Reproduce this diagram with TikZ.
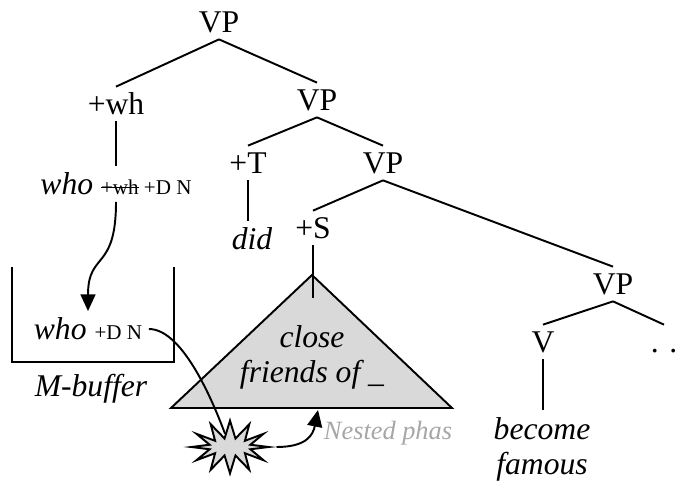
\documentclass[tikz,border=0pt]{standalone}
\usepackage{fontspec}
\setmainfont{Liberation Serif}
\usepackage{xcolor}
\usetikzlibrary{shapes.symbols,arrows.meta}
\definecolor{shadegray}{gray}{0.85}
\definecolor{notegray}{gray}{0.65}
\newcommand{\feat}[1]{{\fontsize{12}{14}\selectfont\upshape #1}}
\newcommand{\crossout}[1]{\setbox0\hbox{#1}\rlap{\rule[0.3em]{\wd0}{0.6pt}}\box0}

\begin{document}
\begin{tikzpicture}[x=0.02cm,y=-0.02cm,line width=1.1pt,
  cat/.style={font=\fontsize{18}{20}\selectfont,text height=12pt,text depth=0pt},
  word/.style={font=\fontsize{18}{20}\selectfont\itshape,align=center},
  tip/.style={-{Triangle[length=9.5pt,width=8.5pt]}}]
  \useasboundingbox (0,0) rectangle (675,483);
  % tree
  \node[cat] (vp1) at (219,22) {VP};
  \node[cat] (wh) at (116,104) {+wh};
  \node[cat] (vp2) at (317,100) {VP};
  \node[cat] (t) at (248,163) {+T};
  \node[cat] (vp3) at (383,163) {VP};
  \node[cat] (s) at (313,228) {+S};
  \node[cat] (vp4) at (613,284) {VP};
  \node[cat] (v) at (543,342) {V};
  \node[cat] (dots) at (664,342) {. .};
  \node[word] (whoa) at (116,184) {who \feat{\crossout{+wh}~+D~N}};
  \node[word] (did) at (252,239) {did};
  \node[word] (bec) at (542,449) {become\\famous};
  \draw (vp1.south) -- (wh.north);
  \draw (vp1.south) -- (vp2.north);
  \draw (vp2.south) -- (t.north);
  \draw (vp2.south) -- (vp3.north);
  \draw (vp3.south) -- (s.north);
  \draw (vp3.south) -- (vp4.north);
  \draw (vp4.south) -- (v.north);
  \draw (vp4.south) -- (dots.north);
  \draw (wh.south) -- (whoa.north);
  \draw (t.south) -- (t.south |- did.north);
  \draw (v.south) -- (v.south |- bec.north);
  % nested phrase
  \coordinate (apex) at (312,275);
  \coordinate (bl) at (171,408);
  \coordinate (br) at (452,408);
  \coordinate (stem) at (313,298);
  \coordinate (gap) at (318,410);
  \draw[fill=shadegray] (apex) -- (br) -- (bl) -- cycle;
  \draw (s.south) -- (s.south |- stem);
  \node[word] (np) at (312,357) {close\\friends of \_};
  \node[anchor=west,inner sep=0pt,text=notegray,font=\fontsize{15}{17}\selectfont\itshape] (note) at (323,433) {Nested phas};
  % buffer
  \draw (12,267) -- (12,362) -- (174,362) -- (174,267);
  \node[word] (whob) at (88,329) {who \feat{+D~N}};
  \node[word] (buf) at (91,389) {M-buffer};
  \node[draw,fill=shadegray,starburst,starburst points=12,starburst point height=10pt,random starburst=0,
        minimum width=44pt,minimum height=30pt,inner sep=0pt] (burst) at (230,447) {};
  \draw[tip] (whoa.south) .. controls +(0,70) and +(0,-60) .. (whob.north);
  \draw (whob.east) .. controls +(35,0) and +(-15,-40) .. (burst);
  \draw[tip] (burst.east) .. controls +(30,0) and +(-5,25) .. (gap);
\end{tikzpicture}
\end{document}
